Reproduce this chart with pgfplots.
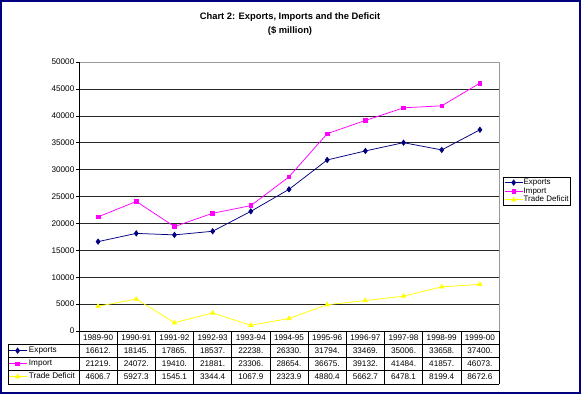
\documentclass[border=0pt]{standalone}
\usepackage{pgfplots}
\usepackage{pgfplotstable}
\pgfplotsset{compat=1.18}
\usepackage{fontspec}
\setmainfont{Liberation Sans}
\definecolor{xlnavy}{RGB}{0,0,128}
\definecolor{xlmag}{RGB}{255,0,255}
\definecolor{xlyel}{RGB}{255,255,0}

\pgfplotstableread{
x exp imp def
0 16612 21219 4606.7
1 18145 24072 5927.3
2 17865 19410 1545.1
3 18537 21881 3344.4
4 22238 23306 1067.9
5 26330 28654 2323.9
6 31794 36675 4880.4
7 33469 39132 5662.7
8 35006 41484 6478.1
9 33658 41857 8199.4
10 37400 46073 8672.6
}\datatab

\pgfplotsset{
  xlexp/.style={xlnavy, line width=0.75bp, mark=diamond*, mark size=2.6bp, mark options={fill=xlnavy, draw=xlnavy}},
  xlimp/.style={xlmag, line width=0.75bp, mark=square*, mark size=1.8bp, mark options={fill=xlmag, draw=xlmag}},
  xldef/.style={xlyel, line width=0.75bp, mark=triangle*, mark size=2.4bp, mark options={fill=xlyel, draw=xlyel}},
  xlkey/.style={legend image code/.code={\draw[mark repeat=2,mark phase=2] plot coordinates {(0bp,0bp)(9bp,0bp)(18bp,0bp)};}},
}

\begin{document}
\begin{tikzpicture}[x=1bp,y=1bp]
\useasboundingbox (0,0) rectangle (581,394);
\fill[white] (0,0) rectangle (581,394);

\node[font=\bfseries\fontsize{9.4}{11}\selectfont] at (290,377) {Chart 2: Exports, Imports and the Deficit};
\node[font=\bfseries\fontsize{9.4}{11}\selectfont] at (290,363) {(\$ million)};

\begin{axis}[at={(79bp,63bp)}, anchor=south west,
  width=420bp, height=269bp, scale only axis,
  xmin=-0.5, xmax=10.5, ymin=0, ymax=50000,
  xtick=\empty, ytick={0,5000,...,50000}, ytick pos=left,
  tick align=outside, major tick length=3bp,
  tick style={black, line width=0.6bp},
  ymajorgrids, grid style={black!85, line width=0.6bp},
  axis line style={gray!80, line width=0.6bp},
  yticklabel style={font=\fontsize{8.2}{9}\selectfont, inner sep=1.5bp},
  /pgf/number format/assume math mode=true,
  /pgf/number format/1000 sep={},
  scaled y ticks=false,
  clip=false,
  xlkey,
  legend cell align=left,
  legend style={at={(axis description cs:1.0095,0.5725)}, anchor=north west,
    draw=black, line width=0.6bp, inner sep=1bp, row sep=0bp,
    font=\fontsize{8}{8}\selectfont,
    nodes={text height=5.8bp, text depth=1.6bp, inner sep=0.6bp}},
  ]
\addplot[xlexp] table[x=x,y=exp]{\datatab};
\addlegendentry{Exports}
\addplot[xlimp] table[x=x,y=imp]{\datatab};
\addlegendentry{Import}
\addplot[xldef] table[x=x,y=def]{\datatab};
\addlegendentry{Trade Deficit}
\draw[black, line width=0.6bp] (rel axis cs:0,0) -- (rel axis cs:0,1);
\end{axis}

% second, hidden axis: legend keys in the data table
\begin{axis}[at={(79bp,63bp)}, anchor=south west,
  width=420bp, height=269bp, scale only axis,
  xmin=-0.5, xmax=10.5, ymin=0, ymax=50000, hide axis,
  xlkey,
  legend cell align=left,
  legend style={at={(axis description cs:-0.169,-0.0483)}, anchor=north west,
    draw=none, fill=none, inner sep=0bp, row sep=0bp,
    font=\fontsize{8.2}{9}\selectfont,
    nodes={text height=6.5bp, text depth=2.5bp, inner sep=2bp}},
  ]
\addlegendimage{xlexp}
\addlegendentry{Exports}
\addlegendimage{xlimp}
\addlegendentry{Import}
\addlegendimage{xldef}
\addlegendentry{Trade Deficit}
\end{axis}

% data table
\def\cw{38.1818}
\begin{scope}[black, line width=0.6bp]
\draw (79,63) -- (499,63);
\draw (8,50) -- (499,50);
\draw (8,37) -- (499,37);
\draw (8,24) -- (499,24);
\draw (8,10) -- (499,10);
\draw (8,50) -- (8,10);
\foreach \k in {0,...,11} {\draw ({79+\k*\cw},63) -- ({79+\k*\cw},10);}
\end{scope}
\begin{scope}[every node/.style={font=\fontsize{8.2}{9}\selectfont, inner sep=0bp}]
\foreach \v [count=\i from 0] in {1989-90,1990-91,1991-92,1992-93,1993-94,1994-95,1995-96,1996-97,1997-98,1998-99,1999-00}
  {\node at ({79+(\i+0.5)*\cw},56.5) {\v};}
\foreach \v [count=\i from 0] in {16612.,18145.,17865.,18537.,22238.,26330.,31794.,33469.,35006.,33658.,37400.}
  {\node at ({79+(\i+0.5)*\cw},43.5) {\v};}
\foreach \v [count=\i from 0] in {21219.,24072.,19410.,21881.,23306.,28654.,36675.,39132.,41484.,41857.,46073.}
  {\node at ({79+(\i+0.5)*\cw},30.5) {\v};}
\foreach \v [count=\i from 0] in {4606.7,5927.3,1545.1,3344.4,1067.9,2323.9,4880.4,5662.7,6478.1,8199.4,8672.6}
  {\node at ({79+(\i+0.5)*\cw},17) {\v};}
\end{scope}

\draw[xlnavy, line width=2bp] (1,1) rectangle (580,393);
\end{tikzpicture}
\end{document}
